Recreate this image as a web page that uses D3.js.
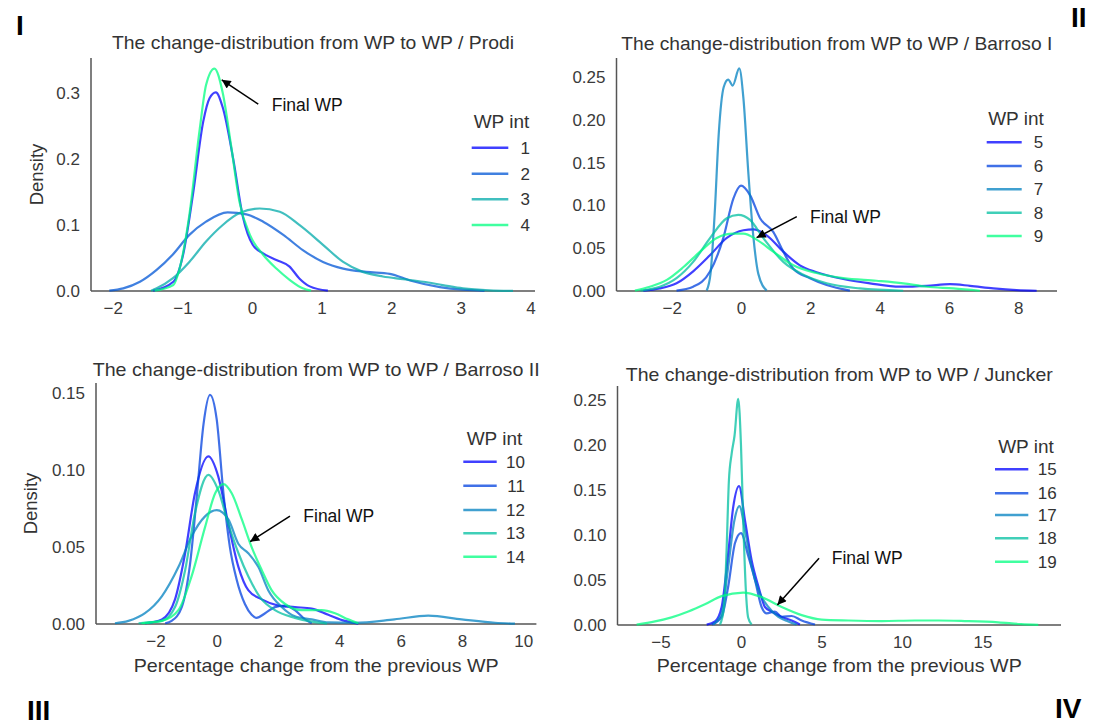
<!DOCTYPE html>
<html>
<head>
<meta charset="utf-8">
<script src="https://cdn.jsdelivr.net/npm/d3@7"></script>
<style>
  body { margin: 0; background: #fff; }
  text { font-family: "Liberation Sans", Arial, sans-serif; fill: #333; }
</style>
</head>
<body>
<div id="chart"></div>
<script>
// ---- data: [percentage change, density] ----
var prodiSeries = [1, 2, 3, 4];
var wp1 = [[-1.42,0.0005],[-1.13,0.014],[-0.99,0.055],[-0.85,0.145],[-0.70,0.257],[-0.61,0.292],[-0.52,0.301],[-0.42,0.278],[-0.27,0.20],[-0.13,0.112],[0.01,0.07],[0.16,0.057],[0.35,0.047],[0.54,0.037],[0.68,0.019],[0.83,0.007],[1.09,0.0005]];
var wp2 = [[-2.05,0.0005],[-1.85,0.004],[-1.61,0.014],[-1.37,0.032],[-1.14,0.055],[-0.9,0.085],[-0.66,0.105],[-0.35,0.119],[-0.08,0.116],[0.16,0.105],[0.45,0.085],[0.73,0.062],[1.02,0.044],[1.31,0.034],[1.64,0.029],[1.98,0.026],[2.27,0.016],[2.7,0.006],[3.03,0.002],[3.34,0.0003]];
var wp3 = [[-1.45,0.0005],[-1.37,0.004],[-1.14,0.019],[-0.9,0.044],[-0.66,0.075],[-0.42,0.10],[-0.18,0.118],[0.11,0.125],[0.4,0.12],[0.68,0.10],[1.02,0.07],[1.31,0.044],[1.59,0.029],[1.88,0.022],[2.17,0.018],[2.46,0.014],[2.74,0.009],[3.03,0.004],[3.41,0.001],[3.75,0.0002]];
var wp4 = [[-1.40,0.0005],[-1.13,0.009],[-1.04,0.034],[-0.90,0.115],[-0.75,0.246],[-0.66,0.312],[-0.54,0.337],[-0.42,0.30],[-0.30,0.22],[-0.18,0.135],[-0.03,0.085],[0.16,0.055],[0.35,0.034],[0.54,0.017],[0.73,0.004],[0.85,0.0005]];

var barroso1Series = [5, 6, 7, 8, 9];
var wp5 = [[-2.82,0.0005],[-2.34,0.003],[-1.86,0.009],[-1.38,0.023],[-0.89,0.042],[-0.41,0.062],[0.07,0.071],[0.36,0.072],[0.74,0.065],[1.22,0.046],[1.7,0.03],[2.18,0.022],[2.95,0.014],[3.72,0.009],[4.59,0.005],[5.36,0.006],[6.03,0.008],[6.61,0.006],[7.28,0.003],[7.95,0.001],[8.53,0.0003]];
var wp6 = [[-1.86,0.0005],[-1.38,0.005],[-0.89,0.023],[-0.51,0.062],[-0.22,0.108],[0,0.123],[0.26,0.112],[0.55,0.085],[0.93,0.069],[1.22,0.046],[1.51,0.026],[1.99,0.015],[2.47,0.007],[3.14,0.0005]];
var wp7 = [[-0.99,0.0005],[-0.88,0.02],[-0.76,0.09],[-0.64,0.185],[-0.5,0.238],[-0.37,0.247],[-0.24,0.24],[-0.05,0.26],[0.07,0.225],[0.21,0.139],[0.36,0.062],[0.5,0.02],[0.74,0.0005]];
var wp8 = [[-2.9,0.0005],[-2.34,0.005],[-1.86,0.015],[-1.38,0.034],[-0.89,0.062],[-0.41,0.085],[-0.08,0.089],[0.26,0.083],[0.64,0.062],[1.22,0.034],[1.8,0.019],[2.47,0.009],[3.43,0.003],[4.68,0.0003]];
var wp9 = [[-3.06,0.0005],[-2.63,0.005],[-2.14,0.013],[-1.66,0.028],[-1.18,0.046],[-0.7,0.062],[-0.22,0.067],[0.07,0.067],[0.45,0.06],[0.93,0.046],[1.51,0.03],[2.18,0.021],[2.95,0.015],[3.91,0.012],[4.68,0.009],[5.36,0.005],[6.13,0.003],[6.89,0.0003]];

var barroso2Series = [10, 11, 12, 13, 14];
var wp10 = [[-2.34,0.0005],[-1.79,0.003],[-1.36,0.016],[-1.03,0.046],[-0.71,0.085],[-0.27,0.109],[0.05,0.096],[0.38,0.065],[0.71,0.037],[1.03,0.022],[1.47,0.016],[2.01,0.012],[2.55,0.011],[3.1,0.01],[3.64,0.006],[4.18,0.002],[4.62,0.0003]];
var wp11 = [[-1.68,0.0005],[-1.47,0.002],[-1.14,0.011],[-0.87,0.039],[-0.65,0.083],[-0.43,0.13],[-0.22,0.149],[0,0.133],[0.22,0.085],[0.43,0.05],[0.65,0.029],[0.92,0.013],[1.14,0.006],[1.3,0.004],[1.58,0.007],[1.9,0.011],[2.23,0.012],[2.55,0.009],[2.88,0.003],[3.1,0.0005]];
var wp12 = [[-3.32,0.0005],[-2.88,0.002],[-2.34,0.007],[-1.79,0.018],[-1.25,0.037],[-0.82,0.057],[-0.38,0.07],[0,0.074],[0.38,0.068],[0.71,0.052],[1.03,0.046],[1.36,0.037],[1.68,0.022],[2.12,0.011],[2.55,0.005],[3.1,0.003],[3.64,0.001],[4.5,0.0008],[5.8,0.003],[6.9,0.0054],[7.99,0.003],[9.08,0.0008],[9.73,0.0002]];
var wp13 = [[-2.55,0.0005],[-1.79,0.002],[-1.36,0.011],[-1.03,0.035],[-0.71,0.072],[-0.27,0.097],[0.05,0.087],[0.38,0.065],[0.71,0.046],[1.03,0.031],[1.47,0.016],[1.9,0.009],[2.55,0.004],[3.1,0.0015],[3.6,0.0003]];
var wp14 = [[-2.45,0.0005],[-1.79,0.002],[-1.25,0.009],[-0.82,0.031],[-0.38,0.063],[-0.05,0.085],[0.22,0.091],[0.49,0.085],[0.82,0.068],[1.14,0.05],[1.47,0.035],[1.79,0.022],[2.23,0.013],[2.77,0.009],[3.42,0.009],[3.86,0.007],[4.29,0.003],[4.62,0.0005]];

var junckerSeries = [15, 16, 17, 18, 19];
var wp15 = [[-2.13,0.0005],[-1.61,0.004],[-1.2,0.02],[-0.79,0.08],[-0.48,0.131],[-0.12,0.154],[0.25,0.116],[0.66,0.072],[1.08,0.043],[1.49,0.02],[1.9,0.015],[2.53,0.009],[3.15,0.005],[3.66,0.0005]];
var wp16 = [[-1.82,0.0005],[-1.2,0.009],[-0.79,0.043],[-0.37,0.091],[0,0.102],[0.46,0.076],[0.87,0.05],[1.28,0.02],[1.59,0.013],[2.11,0.015],[2.53,0.009],[3.15,0.01],[3.77,0.005],[4.6,0.0005]];
var wp17 = [[-1.72,0.0005],[-1.2,0.013],[-0.79,0.065],[-0.41,0.116],[-0.1,0.132],[0.25,0.105],[0.66,0.065],[1.08,0.039],[1.7,0.02],[2.32,0.009],[2.94,0.004],[3.46,0.0005]];
var wp18 = [[-1.3,0.0005],[-1.05,0.02],[-0.9,0.08],[-0.75,0.16],[-0.58,0.19],[-0.4,0.21],[-0.17,0.251],[0,0.2],[0.15,0.11],[0.3,0.04],[0.45,0.008],[0.66,0.0005]];
var wp19 = [[-6.48,0.0005],[-5.34,0.004],[-4.31,0.0085],[-3.27,0.015],[-2.24,0.023],[-1.2,0.032],[0.14,0.036],[1.28,0.031],[2.53,0.02],[3.77,0.011],[5.01,0.006],[6.67,0.005],[8.74,0.0044],[10.8,0.005],[12.26,0.005],[13.9,0.0044],[15.98,0.003],[17.4,0.001],[18.47,0.0002]];

// tick labels
var prodiXTicks = [-2, -1, 0, 1, 2, 3, 4],        prodiYTicks = [0, 0.1, 0.2, 0.3];
var barroso1XTicks = [-2, 0, 2, 4, 6, 8],         barroso1YTicks = [0, 0.05, 0.10, 0.15, 0.20, 0.25];
var barroso2XTicks = [-2, 0, 2, 4, 6, 8, 10],     barroso2YTicks = [0, 0.05, 0.10, 0.15];
var junckerXTicks = [-5, 0, 5, 10, 15],           junckerYTicks = [0, 0.05, 0.10, 0.15, 0.20, 0.25];

// "Final WP" arrow: tip and tail in data units
var prodiArrow = [[-0.435, 0.320], [0.09, 0.283]];
var barroso1Arrow = [[0.45, 0.0623], [1.61, 0.0868]];
var barroso2Arrow = [[1.09, 0.0535], [2.39, 0.0702]];
var junckerArrow = [[2.26, 0.0222], [4.85, 0.074]];

// ---- layout ----
var width = 1108, height = 725;

var panels = [
  { title: "The change-distribution from WP to WP / Prodi", titleW: 402, titleY: 49,
    series: prodiSeries, curves: [wp1, wp2, wp3, wp4], xTicks: prodiXTicks, yTicks: prodiYTicks, yFmt: ".1f",
    box: {l: 91, r: 535, t: 58, b: 291}, xlim: [-2.313, 4.066], ylim: [0, 0.353],
    arrow: prodiArrow, noteX: 271.7, noteY: 111,
    leg: {cx: 501.5, ty: 121.7, x1: 471.7, x2: 508.3, lr: 530, ys: [147.7, 173.7, 199.3, 225]},
    ylabel: 37.5, xlabel: false },
  { title: "The change-distribution from WP to WP / Barroso I", titleW: 431, titleY: 50,
    series: barroso1Series, curves: [wp5, wp6, wp7, wp8, wp9], xTicks: barroso1XTicks, yTicks: barroso1YTicks, yFmt: ".2f",
    box: {l: 616.5, r: 1057, t: 58, b: 291}, xlim: [-3.592, 9.117], ylim: [0, 0.2722],
    arrow: barroso1Arrow, noteX: 810, noteY: 222.7,
    leg: {cx: 1016, ty: 118.3, x1: 986.7, x2: 1021.7, lr: 1043.3, ys: [142.3, 166, 189.3, 212.7, 236]},
    ylabel: null, xlabel: false },
  { title: "The change-distribution from WP to WP / Barroso II", titleW: 447, titleY: 376,
    series: barroso2Series, curves: [wp10, wp11, wp12, wp13, wp14], xTicks: barroso2XTicks, yTicks: barroso2YTicks, yFmt: ".2f",
    box: {l: 96, r: 536.4, t: 383, b: 624}, xlim: [-3.938, 10.43], ylim: [0, 0.1567],
    arrow: barroso2Arrow, noteX: 303.3, noteY: 522,
    leg: {cx: 494.5, ty: 438.3, x1: 463.3, x2: 496.7, lr: 525, ys: [461.7, 485.7, 510, 533.3, 556.7]},
    ylabel: 31.4, xlabel: true },
  { title: "The change-distribution from WP to WP / Juncker", titleW: 427, titleY: 381,
    series: junckerSeries, curves: [wp15, wp16, wp17, wp18, wp19], xTicks: junckerXTicks, yTicks: junckerYTicks, yFmt: ".2f",
    box: {l: 617.5, r: 1061, t: 386, b: 625}, xlim: [-7.67, 19.88], ylim: [0, 0.2652],
    arrow: junckerArrow, noteX: 831.7, noteY: 564.3,
    leg: {cx: 1026, ty: 446.7, x1: 995, x2: 1028.3, lr: 1056.7, ys: [469.3, 493.3, 515, 538.3, 561.7]},
    ylabel: null, xlabel: true }
];

var svg = d3.select("#chart").append("svg")
  .attr("width", width)
  .attr("height", height);

svg.append("defs").append("marker")
  .attr("id", "head")
  .attr("viewBox", "0 0 10 10")
  .attr("refX", 10).attr("refY", 5)
  .attr("markerUnits", "userSpaceOnUse")
  .attr("markerWidth", 11).attr("markerHeight", 9)
  .attr("orient", "auto")
  .append("path")
  .attr("d", "M0,0L10,5L0,10z")
  .style("fill", "#000");

panels.forEach(function(p) {
  var x = d3.scaleLinear().domain(p.xlim).range([p.box.l, p.box.r]);
  var y = d3.scaleLinear().domain(p.ylim).range([p.box.b, p.box.t]);
  var n = p.series.length;
  // winter colormap over the WP numbers of the panel
  var color = d3.scaleLinear()
    .domain([p.series[0], p.series[n - 1]])
    .range(["#0000ff", "#00ff80"]);

  var g = svg.append("g");

  // tick labels only, no tick marks
  g.append("g")
    .attr("transform", "translate(0," + p.box.b + ")")
    .call(d3.axisBottom(x).tickValues(p.xTicks).tickFormat(d3.format("d")).tickSize(0).tickPadding(11))
    .call(function(a) { a.select(".domain").remove(); })
    .selectAll("text").style("font-size", "17px").style("fill", "#3a3a3a");

  g.append("g")
    .attr("transform", "translate(" + p.box.l + ",0)")
    .call(d3.axisLeft(y).tickValues(p.yTicks).tickFormat(d3.format(p.yFmt)).tickSize(0).tickPadding(11))
    .call(function(a) { a.select(".domain").remove(); })
    .selectAll("text").style("font-size", "17px").style("fill", "#3a3a3a");

  // spines
  g.append("line")
    .attr("x1", p.box.l).attr("x2", p.box.l).attr("y1", p.box.t).attr("y2", p.box.b)
    .style("stroke", "#555").style("stroke-width", 1.5);
  g.append("line")
    .attr("x1", p.box.l).attr("x2", p.box.r).attr("y1", p.box.b).attr("y2", p.box.b)
    .style("stroke", "#555").style("stroke-width", 1.5);

  // density curves
  var line = d3.line()
    .x(function(d) { return x(d[0]); })
    .y(function(d) { return y(d[1]); })
    .curve(d3.curveMonotoneX);

  g.selectAll(".kde")
    .data(p.curves)
    .enter().append("path")
    .attr("class", "kde")
    .attr("d", line)
    .style("fill", "none")
    .style("stroke", function(d, i) { return color(p.series[i]); })
    .style("stroke-opacity", 0.75)
    .style("stroke-width", 2.2);

  // title
  g.append("text")
    .attr("x", (p.box.l + p.box.r) / 2)
    .attr("y", p.titleY)
    .attr("text-anchor", "middle")
    .attr("textLength", p.titleW)
    .attr("lengthAdjust", "spacingAndGlyphs")
    .style("font-size", "19px")
    .text(p.title);

  if (p.ylabel !== null) {
    g.append("text")
      .attr("transform", "translate(" + p.ylabel + "," + (p.box.t + p.box.b) / 2 + ") rotate(-90)")
      .attr("text-anchor", "middle")
      .attr("dy", "0.32em")
      .style("font-size", "18.5px")
      .text("Density");
  }

  if (p.xlabel) {
    g.append("text")
      .attr("x", (p.box.l + p.box.r) / 2)
      .attr("y", 671.5)
      .attr("text-anchor", "middle")
      .attr("textLength", 365)
      .attr("lengthAdjust", "spacingAndGlyphs")
      .style("font-size", "19px")
      .text("Percentage change from the previous WP");
  }

  // legend
  g.append("text")
    .attr("x", p.leg.cx).attr("y", p.leg.ty)
    .attr("dy", "0.35em")
    .attr("text-anchor", "middle")
    .style("font-size", "19px")
    .text("WP int");

  var items = g.selectAll(".leg")
    .data(p.series)
    .enter().append("g")
    .attr("class", "leg")
    .attr("transform", function(d, i) { return "translate(0," + p.leg.ys[i] + ")"; });
  items.append("line")
    .attr("x1", p.leg.x1).attr("x2", p.leg.x2)
    .style("stroke", function(d) { return color(d); })
    .style("stroke-opacity", 0.75)
    .style("stroke-width", 2.5);
  items.append("text")
    .attr("x", p.leg.lr)
    .attr("dy", "0.35em")
    .attr("text-anchor", "end")
    .style("font-size", "17px")
    .text(function(d) { return d; });

  // "Final WP" annotation
  g.append("line")
    .attr("x1", x(p.arrow[1][0])).attr("y1", y(p.arrow[1][1]))
    .attr("x2", x(p.arrow[0][0])).attr("y2", y(p.arrow[0][1]))
    .attr("marker-end", "url(#head)")
    .style("stroke", "#000")
    .style("stroke-width", 1.5);
  g.append("text")
    .attr("x", p.noteX).attr("y", p.noteY)
    .attr("textLength", 71)
    .attr("lengthAdjust", "spacing")
    .style("font-size", "17.5px")
    .style("fill", "#111")
    .text("Final WP");
});

// panel numerals
var numerals = [["I", 16, 35], ["II", 1071, 27], ["III", 27, 720], ["IV", 1055, 718]];
svg.selectAll(".num")
  .data(numerals)
  .enter().append("text")
  .attr("class", "num")
  .attr("x", function(d) { return d[1]; })
  .attr("y", function(d) { return d[2]; })
  .style("font-size", "28px")
  .style("font-weight", "bold")
  .style("fill", "#000")
  .text(function(d) { return d[0]; });
</script>
</body>
</html>
